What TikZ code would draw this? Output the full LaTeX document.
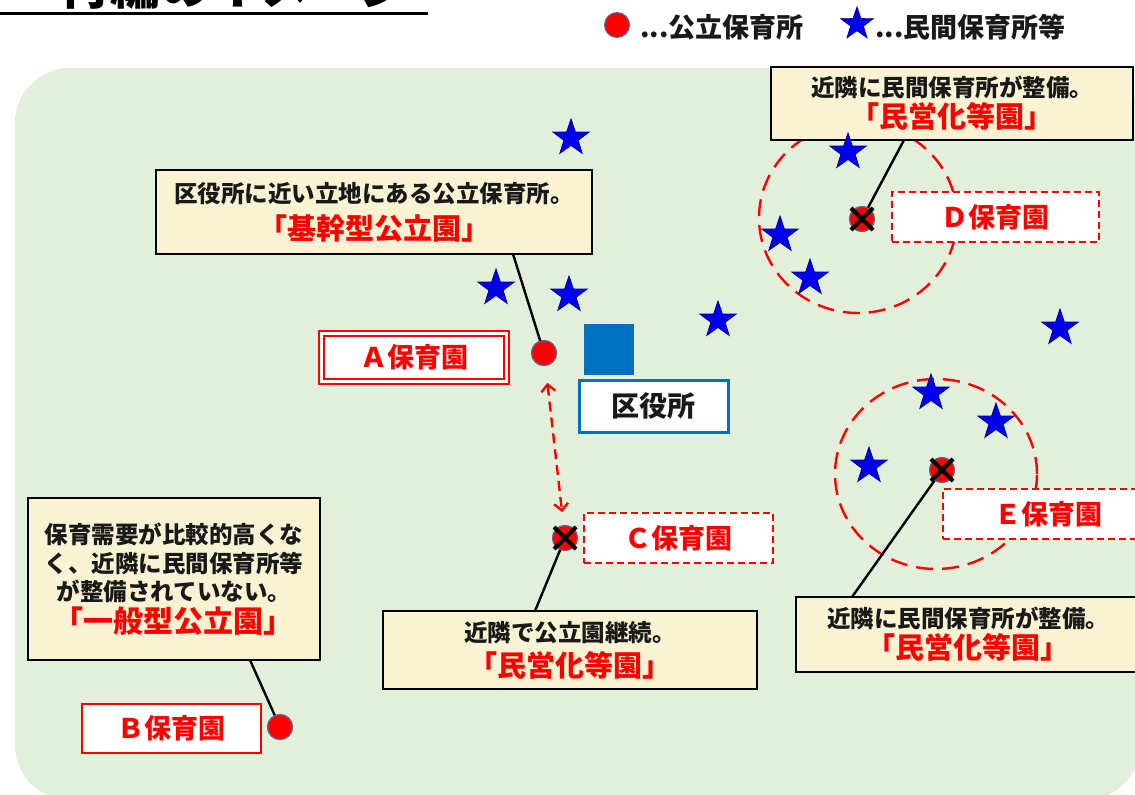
\documentclass[tikz,border=0pt]{standalone}
\usepackage{fontspec}
\setmainfont{Noto Sans CJK JP}
\usetikzlibrary{shapes.geometric,arrows.meta}
\definecolor{bg}{RGB}{226,239,218}
\definecolor{cream}{RGB}{249,243,211}
\definecolor{txt}{RGB}{25,25,25}
\definecolor{ptedge}{RGB}{90,105,150}
\definecolor{starblue}{RGB}{0,0,235}
\definecolor{kublue}{RGB}{0,112,192}
\tikzset{
  callout/.style={draw=black, line width=2.6pt, fill=cream, align=center, inner sep=0pt, text=txt},
  lab/.style={fill=white, text=red, font=\bfseries\fontsize{27}{30}\selectfont, inner sep=0pt},
  labdash/.style={lab, draw=red, line width=2.4pt, dash pattern=on 7pt off 4pt},
  pub/.style={circle, fill=red, draw=ptedge, line width=1pt, minimum size=25pt, inner sep=0pt},
  priv/.style={star, star points=5, star point ratio=2.55, fill=starblue, draw=starblue!70!black, line width=0.8pt, minimum size=38pt, inner sep=0pt},
  leader/.style={draw=black, line width=2.4pt},
  xmark/.style={line width=4pt, black},
  zone/.style={ellipse, draw=red, line width=2.4pt, dash pattern=on 17pt off 9pt, inner sep=0pt},
  legendtext/.style={anchor=west, inner sep=0pt, font=\bfseries\fontsize{27}{27}\selectfont, text=txt}
}
\newcommand{\rtx}[1]{\textcolor{red}{\fontsize{29}{30}\selectfont #1}}
\begin{document}
\begin{tikzpicture}[x=1pt,y=-1pt]
\useasboundingbox (0,0) rectangle (1135,795);
\fill[white] (0,0) rectangle (1135,795);
% title (cut off at top, as in the reference)
\node[anchor=base, inner sep=0pt, font=\bfseries\fontsize{50}{50}\selectfont] (title) at (235,5) {再編のイメージ};
\draw[line width=3pt] (0,13) -- (428,13);
% legend
\node[pub] (lgc) at (617,25) {};
\node[legendtext] (lgct) at (640,27) {...公立保育所};
\node[priv, minimum size=34pt] (lgs) at (857,24) {};
\node[legendtext] (lgst) at (875,27) {...民間保育所等};
% background
\fill[bg, rounded corners=55pt] (15,68) rectangle (1140,800);
% zones
\node[zone, minimum width=198pt, minimum height=190pt] (zD) at (858,218) {};
\node[zone, minimum width=202pt, minimum height=190pt] (zE) at (936,474) {};
% public nursery points
\node[pub] (pA) at (544,353) {};
\node[pub] (pB) at (280,727) {};
\node[pub] (pC) at (565,538) {};
\node[pub] (pD) at (862,219) {};
\node[pub] (pE) at (942,470) {};
% leader start points
\coordinate (eA) at (513,254);
\coordinate (eB) at (250,660);
\coordinate (eC) at (535,611);
\coordinate (eD) at (904,140);
\coordinate (eE) at (852,597);
\draw[leader] (eA) -- (pA.center);
\draw[leader] (eB) -- (pB.center);
\draw[leader] (eC) -- (pC.center);
\draw[leader] (eD) -- (pD.center);
\draw[leader] (eE) -- (pE.center);
% callouts
\node[callout, minimum width=436pt, minimum height=84pt, font=\bfseries\fontsize{23.5}{37}\selectfont] (cA) at (374,212)
  {区役所に近い立地にある公立保育所。\\\rtx{「基幹型公立園」}};
\node[callout, minimum width=362pt, minimum height=73pt, font=\bfseries\fontsize{23.5}{31}\selectfont] (cD) at (952,103.5)
  {近隣に民間保育所が整備。\\\rtx{「民営化等園」}};
\node[callout, minimum width=292pt, minimum height=162pt, font=\bfseries\fontsize{23.5}{28.5}\selectfont] (cB) at (174,579)
  {保育需要が比較的高くな\\く、近隣に民間保育所等\\が整備されていない。\\[3pt]\textcolor{red}{\fontsize{30}{30}\selectfont 「一般型公立園」}};
\node[callout, minimum width=374pt, minimum height=78pt, font=\bfseries\fontsize{23.5}{35}\selectfont] (cC) at (570,650)
  {近隣で公立園継続。\\\rtx{「民営化等園」}};
\node[callout, minimum width=344pt, minimum height=75pt, font=\bfseries\fontsize{23.5}{31}\selectfont] (cE) at (968,634.5)
  {近隣に民間保育所が整備。\\\rtx{「民営化等園」}};
% private nurseries
\node[priv] (s1) at (571,138) {};
\node[priv] (s2) at (496,288) {};
\node[priv] (s3) at (569,295) {};
\node[priv] (s4) at (718,320) {};
\node[priv] (s5) at (1060,328) {};
\node[priv] (s6) at (848,152) {};
\node[priv] (s7) at (780,235) {};
\node[priv] (s8) at (810,278) {};
\node[priv] (s9) at (931,393) {};
\node[priv] (s10) at (996,422) {};
\node[priv] (s11) at (869,466) {};
% labels
\node[lab, draw=red, line width=2.2pt, double=white, double distance=2.5pt, minimum width=185pt, minimum height=48pt] (lA) at (414,357.5) {Ａ保育園};
\node[lab, draw=red, line width=2.4pt, minimum width=179pt, minimum height=49pt] (lB) at (171.5,728.5) {Ｂ保育園};
\node[labdash, minimum width=189pt, minimum height=50pt] (lC) at (678.5,538) {Ｃ保育園};
\node[labdash, minimum width=207pt, minimum height=50pt] (lD) at (995.5,217) {Ｄ保育園};
\node[labdash, minimum width=210pt, minimum height=50pt] (lE) at (1048,514) {Ｅ保育園};
% redraw points over leaders
\node[pub] at (pA) {};
\node[pub] at (pB) {};
\node[pub] at (pC) {};
\node[pub] at (pD) {};
\node[pub] at (pE) {};
% X marks
\foreach \p in {pC,pD,pE}{
  \draw[xmark] ([shift={(-11,-11)}]\p.center) -- ([shift={(11,11)}]\p.center);
  \draw[xmark] ([shift={(-11,11)}]\p.center) -- ([shift={(11,-11)}]\p.center);
}
% arrow between A and C
\draw[red, line width=2.4pt, dash pattern=on 10pt off 6pt, shorten <=17pt, shorten >=13pt,
  {Straight Barb[length=7pt,width=14pt,line width=2.4pt]}-{Straight Barb[length=7pt,width=14pt,line width=2.4pt]}] (pA) -- (pC);
% ward office
\node[fill=kublue, minimum width=50pt, minimum height=51pt, inner sep=0pt] (sq) at (609,349.5) {};
\node[draw=kublue, line width=3pt, fill=white, minimum width=149pt, minimum height=52pt, inner sep=0pt, font=\bfseries\fontsize{28}{30}\selectfont, text=txt] (ku) at (653.5,406) {区役所};
\end{tikzpicture}
\end{document}
